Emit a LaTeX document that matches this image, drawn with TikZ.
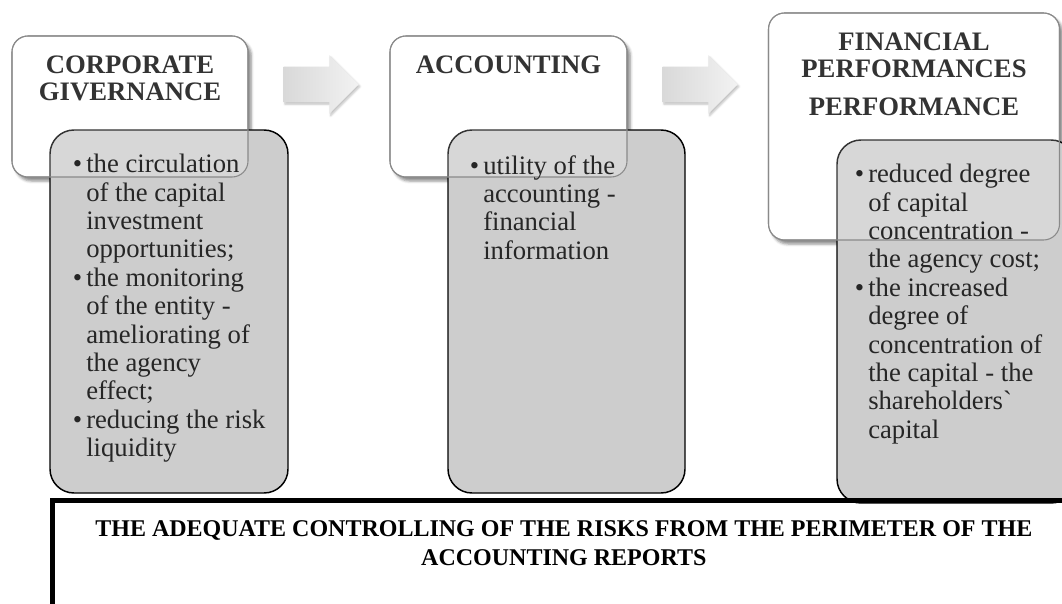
\documentclass[tikz,border=0pt]{standalone}
\usepackage{fontspec}
\setmainfont{Liberation Serif}
\usetikzlibrary{%
        positioning,
        shapes.arrows,
        shadows.blur
    }
\definecolor{listgray}{HTML}{CDCDCD}
\definecolor{rimgray}{HTML}{8A8A8A}
\newcommand{\headfont}{\fontsize{20}{20}\selectfont\bfseries}
\newcommand{\listfont}{\fontsize{20}{21.3}\selectfont}
\newcommand{\footfont}{\fontsize{18}{21.75}\selectfont\bfseries}
\newcommand{\bul}{\llap{\textbullet\hspace{3pt}}}
\tikzset{%
    outerbox/.style={%
        draw=rimgray, line width=0.8pt, fill=white, rounded corners=12pt,
        inner sep=0pt, outer sep=0pt,
        blur shadow={shadow xshift=2.5pt, shadow yshift=-3pt,
            shadow blur radius=2pt, shadow opacity=45}
    },
    veil/.style={%
        draw=rimgray, line width=0.8pt, fill=white, fill opacity=0.2,
        rounded corners=12pt
    },
    listbox/.style={%
        draw=black, line width=1.1pt, fill=listgray, rounded corners=18pt,
        inner sep=0pt, outer sep=0pt
    },
    flow/.style={%
        single arrow, draw=none, minimum height=56.25pt,
        inner xsep=0pt, inner ysep=13.125pt,
        single arrow head extend=8.625pt,
        left color=black!15, right color=black!5,
        blur shadow={shadow xshift=1pt, shadow yshift=-1.5pt,
            shadow blur radius=1.5pt, shadow opacity=25}
    },
    title/.style={font=\headfont, align=center, inner sep=0pt},
    items/.style={%
        font=\listfont, align=left, inner sep=0pt, anchor=north west,
        text=black!85
    },
    frame/.style={%
        draw=black, line width=3.75pt, inner sep=0pt, outer sep=0pt,
        minimum width=767pt, minimum height=105pt
    }
}

\begin{document}
\begin{tikzpicture}[x=0.75pt, y=-0.75pt]

    \useasboundingbox (0, 0) rectangle (1062, 603);

    %%%%%%%%%%%%
    % Headings
    \node[outerbox, anchor=north west, minimum width=177pt,
        minimum height=105.75pt] (gov) at (12, 36) {};
    \node[outerbox, anchor=north west, minimum width=177.75pt,
        minimum height=105.75pt] (acc) at (390, 36) {};
    \node[outerbox, anchor=north west, minimum width=218.25pt,
        minimum height=170.25pt] (fin) at (768.5, 13) {};

    \node[title, below=15pt of gov.north] (gov-title)
        {CORPORATE\\GIVERNANCE};
    \node[title, below=15pt of acc.north] (acc-title)
        {ACCOUNTING};
    \node[title, below=15pt of fin.north] (fin-title)
        {FINANCIAL\\PERFORMANCES\\[8.5pt]PERFORMANCE};

    % Flow
    \node[flow, right=26.5pt of gov, yshift=16.5pt] (flow-0) {};
    \node[flow, right=26.5pt of acc, yshift=16.5pt] (flow-1) {};

    %%%%%%%%%%%%
    % Lists
    \node[listbox, anchor=north west, minimum width=178.5pt,
        minimum height=272.25pt] (gov-list) at (50, 130) {};
    \node[listbox, anchor=north west, minimum width=177.75pt,
        minimum height=272.25pt] (acc-list) at (448, 130) {};
    \node[listbox, anchor=north west, minimum width=178.5pt,
        minimum height=272.25pt] (fin-list) at (837, 140) {};

    \foreach \blk in {gov, acc, fin}{%
        \draw[veil] (\blk.south west) rectangle (\blk.north east);
    };

    \node[items] (gov-items) at (86, 154) {%
        \bul the circulation\\
        of the capital\\
        investment\\
        opportunities;\\
        \bul the monitoring\\
        of the entity -\\
        ameliorating of\\
        the agency\\
        effect;\\
        \bul reducing the risk\\
        liquidity
    };
    \node[items] (acc-items) at (483, 155) {%
        \bul utility of the\\
        accounting -\\
        financial\\
        information
    };
    \node[items] (fin-items) at (868, 164) {%
        \bul reduced degree\\
        of capital\\
        concentration -\\
        the agency cost;\\
        \bul the increased\\
        degree of\\
        concentration of\\
        the capital - the\\
        shareholdersˋ\\
        capital
    };

    %%%%%%%%%%%%
    % Risks
    \node[frame, anchor=north west] (risks) at (52.5, 500) {};
    \node[font=\footfont, align=center, inner sep=0pt,
        below=15pt of risks.north] (risks-title)
        {THE ADEQUATE CONTROLLING OF THE RISKS FROM THE PERIMETER OF THE\\
        ACCOUNTING REPORTS};

\end{tikzpicture}
\end{document}
